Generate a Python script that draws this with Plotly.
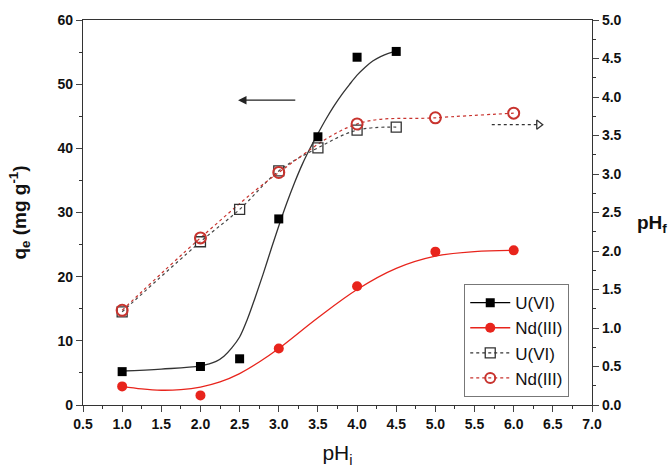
import plotly.graph_objects as go

# ---- data ----
ph_i_u = [1.0, 2.0, 2.5, 3.0, 3.5, 4.0, 4.5]
qe_u = [5.2, 6.0, 7.2, 29.0, 41.8, 54.2, 55.1]
fit_u_x = [1.0, 1.5, 2.0, 2.2, 2.3, 2.4, 2.5, 2.6, 2.7, 2.8, 2.9, 3.0, 3.1, 3.2, 3.3, 3.4, 3.5,
           3.6, 3.7, 3.8, 3.9, 4.0, 4.1, 4.2, 4.3, 4.4, 4.5]
fit_u_y = [5.3, 5.6, 6.1, 6.8, 7.6, 8.9, 10.6, 13.4, 16.8, 20.4, 24.2, 27.9, 31.4, 34.6, 37.5, 40.0, 42.3,
           44.5, 46.5, 48.3, 49.9, 51.4, 52.6, 53.6, 54.3, 54.8, 55.1]

ph_i_nd = [1.0, 2.0, 3.0, 4.0, 5.0, 6.0]
qe_nd = [2.9, 1.5, 8.8, 18.5, 23.9, 24.1]
fit_nd_x = [1.0, 1.25, 1.5, 1.75, 2.0, 2.25, 2.5, 2.75, 3.0, 3.5, 4.0, 4.5, 5.0, 5.5, 6.0]
fit_nd_y = [2.9, 2.5, 2.3, 2.4, 2.8, 3.6, 4.9, 6.7, 8.8, 13.6, 18.0, 21.3, 23.2, 23.9, 24.1]

ph_f_u = [1.21, 2.12, 2.54, 3.04, 3.34, 3.57, 3.61]
ph_f_nd = [1.23, 2.17, 3.02, 3.65, 3.73, 3.79]

x_ticks = [0.5 + 0.5 * i for i in range(14)]

RED = "#e8241c"
DRED = "#c8332e"

fig = go.Figure()

# fitted curves
fig.add_trace(go.Scatter(x=fit_u_x, y=fit_u_y, mode="lines", line=dict(color="#333333", width=1.3, shape="spline"),
                         showlegend=False, hoverinfo="skip"))
fig.add_trace(go.Scatter(x=fit_nd_x, y=fit_nd_y, mode="lines", line=dict(color=RED, width=1.3, shape="spline"),
                         showlegend=False, hoverinfo="skip"))
# dotted pH_f curves
fig.add_trace(go.Scatter(x=ph_i_u, y=ph_f_u, yaxis="y2", mode="lines",
                         line=dict(color="#444444", width=1.2, dash="dot", shape="spline"),
                         showlegend=False, hoverinfo="skip"))
fig.add_trace(go.Scatter(x=ph_i_nd, y=ph_f_nd, yaxis="y2", mode="lines",
                         line=dict(color=DRED, width=1.2, dash="dot", shape="spline"),
                         showlegend=False, hoverinfo="skip"))

# markers
fig.add_trace(go.Scatter(x=ph_i_u, y=qe_u, mode="markers", showlegend=False,
                         marker=dict(symbol="square", size=9, color="#000000")))
fig.add_trace(go.Scatter(x=ph_i_nd, y=qe_nd, mode="markers", showlegend=False,
                         marker=dict(symbol="circle", size=10, color=RED)))
fig.add_trace(go.Scatter(x=ph_i_u, y=ph_f_u, yaxis="y2", mode="markers", showlegend=False,
                         marker=dict(symbol="square-open", size=10, color="#333333", line=dict(width=1.3))))
fig.add_trace(go.Scatter(x=ph_i_nd, y=ph_f_nd, yaxis="y2", mode="markers", showlegend=False,
                         marker=dict(symbol="circle-open", size=11, color=DRED, line=dict(width=2))))

# legend entries styled like the reference legend
leg = [
    ("U(VI)", "solid", "#000000", "square", 9, None),
    ("Nd(III)", "solid", RED, "circle", 10, None),
    ("U(VI)", "dot", "#333333", "square-open", 10, 1.3),
    ("Nd(III)", "dot", DRED, "circle-open", 10, 2),
]
for name, dash, col, sym, sz, lw in leg:
    m = dict(symbol=sym, size=sz, color=col)
    if lw:
        m["line"] = dict(width=lw)
    fig.add_trace(go.Scatter(x=[None], y=[None], mode="lines+markers", name=name,
                             line=dict(color=col, width=1.3, dash=dash), marker=m))

# dotted right arrow (pH_f axis)
fig.add_trace(go.Scatter(x=[5.72, 6.3], y=[3.64, 3.64], yaxis="y2", mode="lines",
                         line=dict(color="#333333", width=1.2, dash="dot"), showlegend=False, hoverinfo="skip"))
fig.add_trace(go.Scatter(x=[6.32], y=[3.64], yaxis="y2", mode="markers",
                         marker=dict(symbol="triangle-right-open", size=8, color="#333333", line=dict(width=1.3)),
                         showlegend=False, hoverinfo="skip"))

# solid left arrow (q_e axis)
fig.add_annotation(x=2.48, y=47.5, ax=3.23, ay=47.5, xref="x", yref="y", axref="x", ayref="y",
                   showarrow=True, arrowhead=2, arrowsize=1.3, arrowwidth=1.3, arrowcolor="#222222", text="")

tickfont = dict(family="Liberation Sans, Arial", size=14, color="#111111", weight="bold")

fig.update_layout(
    width=672, height=473,
    margin=dict(l=83, r=80, t=16, b=68),
    paper_bgcolor="white", plot_bgcolor="white",
    font=dict(family="Liberation Sans, Arial", color="#111111"),
    xaxis=dict(range=[0.5, 7.0], tickvals=x_ticks, tickformat=".1f", ticks="outside", ticklen=6,
               tickwidth=1.2, showline=True, linecolor="#333333", linewidth=1.3, mirror=True,
               showgrid=False, zeroline=False, tickfont=tickfont,
               minor=dict(dtick=0.25, tick0=0.5, ticks="outside", ticklen=3, tickcolor="#333333"),
               title=dict(text="pH<sub>i</sub>", font=dict(size=21), standoff=14)),
    yaxis=dict(range=[0, 60], dtick=10, ticks="outside", ticklen=6, tickwidth=1.2,
               showline=True, linecolor="#333333", linewidth=1.3, showgrid=False, zeroline=False,
               tickfont=tickfont,
               minor=dict(dtick=5, ticks="outside", ticklen=3, tickcolor="#333333"),
               title=dict(text="<b>q<sub>e</sub> (mg g<sup>-1</sup>)</b>", font=dict(size=19), standoff=25)),
    yaxis2=dict(range=[0, 5], dtick=0.5, tickformat=".1f", overlaying="y", side="right", ticks="outside",
                ticklen=6, tickwidth=1.2, showline=True, linecolor="#333333", linewidth=1.3,
                showgrid=False, zeroline=False, tickfont=tickfont,
                minor=dict(dtick=0.25, ticks="outside", ticklen=3, tickcolor="#333333")),
    legend=dict(x=0.749, y=0.314, xanchor="left", yanchor="top", bordercolor="#777777", borderwidth=1,
                bgcolor="white", font=dict(size=17, color="#111111"), tracegroupgap=0, itemwidth=40),
    showlegend=True,
)

fig.add_annotation(text="<b>pH<sub>f</sub></b>", xref="paper", yref="paper", x=1.085, y=0.47,
                   showarrow=False, font=dict(size=19), xanchor="left")

fig.write_html("out.html")
